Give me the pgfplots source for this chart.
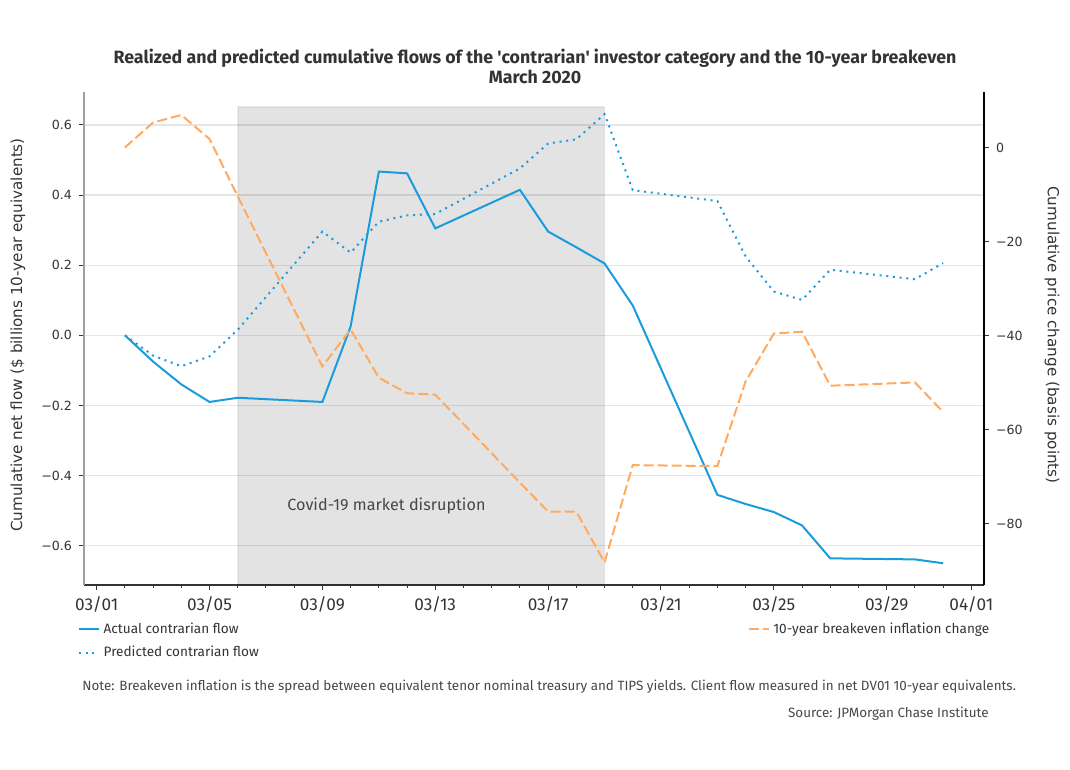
\documentclass[border=0pt]{standalone}
\usepackage{fontspec}
\usepackage{pgfplots}
\pgfplotsset{compat=1.18}
\setmainfont{Fira Sans}
\newfontfamily\titlefont{Fira Sans}
\newfontfamily\dejavu{DejaVu Sans}
\definecolor{cblue}{HTML}{1A9BDB}
\definecolor{corange}{HTML}{FFAA5E}
\definecolor{txt}{HTML}{333333}
\definecolor{gridc}{HTML}{E6E6E6}

\pgfplotstableread{
d act pred
2 0.000 0.000
3 -0.075 -0.058
4 -0.140 -0.088
5 -0.190 -0.060
6 -0.178 0.016
9 -0.190 0.296
10 0.025 0.236
11 0.467 0.324
12 0.462 0.342
13 0.305 0.346
16 0.415 0.476
17 0.296 0.547
18 0.251 0.559
19 0.205 0.631
20 0.085 0.414
23 -0.455 0.383
24 -0.481 0.225
25 -0.504 0.125
26 -0.542 0.101
27 -0.636 0.187
30 -0.639 0.160
31 -0.650 0.206
}\flows

\pgfplotstableread{
d be
2 0.0
3 5.3
4 6.9
5 1.8
6 -10.4
9 -46.6
10 -38.7
11 -49.0
12 -52.3
13 -52.6
16 -71.3
17 -77.5
18 -77.5
19 -88.3
20 -67.6
23 -67.8
24 -49.8
25 -39.6
26 -39.2
27 -50.7
30 -50.0
31 -56.3
}\breakeven

\begin{document}
\begin{tikzpicture}[x=0.5pt,y=0.5pt]
\path[use as bounding box] (0,0) rectangle (1070,770);
\pgfplotsset{
  common/.style={
    width=450pt, height=246.5pt, scale only axis,
    at={(42pt,92.5pt)}, anchor=south west,
    xmin=0.55, xmax=32.45,
    tick align=outside,
    major tick length=2.5pt, minor tick length=1.5pt,
    every tick/.style={draw=txt, line width=0.5pt},
    yticklabel style={font=\dejavu\fontsize{6.3}{7.5}\selectfont, text=txt},
    ylabel style={font=\dejavu\fontsize{7.6}{9}\selectfont, text=txt},
    legend image code/.code={\draw[#1] (0pt,0pt) -- (10pt,0pt);},
    legend style={draw=none, fill=none, anchor=north west,
      font=\fontsize{6.8}{8}\selectfont, text=txt,
      row sep=1.5pt, inner sep=0pt,
      nodes={inner sep=1.8pt}},
    legend cell align=left,
  }
}
\begin{axis}[common,
  ymin=-0.712, ymax=0.694,
  axis x line*=bottom, axis y line*=left,
  x axis line style={draw=txt, line width=0.6pt},
  y axis line style={draw=gray!75, line width=0.6pt},
  xtick={1,5,9,13,17,21,25,29,32},
  xticklabels={03/01,03/05,03/09,03/13,03/17,03/21,03/25,03/29,04/01},
  minor xtick={1,...,32},
  xticklabel style={font=\fontsize{8.6}{10}\selectfont, text=txt},
  ytick={-0.6,-0.4,-0.2,0,0.2,0.4,0.6},
  yticklabels={−0.6,−0.4,−0.2,0.0,0.2,0.4,0.6},
  ymajorgrids, grid style={gridc, line width=0.6pt},
  ylabel={Cumulative net flow (\$ billions 10-year equivalents)},
  ylabel style={at={(axis description cs:-0.0733,0.507)}, anchor=center},
  legend style={at={(axis description cs:-0.007,-0.068)}},
]
\addplot[fill=black, fill opacity=0.11, draw=black, draw opacity=0.05, line width=0.8pt, forget plot]
  coordinates {(6,-0.75) (6,0.652) (19,0.652) (19,-0.75) (6,-0.75)};
\node[font=\fontsize{8.1}{9}\selectfont, text=txt!90] at (axis cs:11.27,-0.487) {Covid-19 market disruption};
\addplot[cblue, line width=1pt] table[x=d, y=act] {\flows};
\addlegendentry{Actual contrarian flow}
\addplot[cblue, line width=1pt, dash pattern=on 1pt off 2.35pt] table[x=d, y=pred] {\flows};
\addlegendentry{Predicted contrarian flow}
\end{axis}
\begin{axis}[common,
  ymin=-93.1, ymax=11.8,
  axis x line=none, axis y line*=right,
  y axis line style={draw=black, line width=0.6pt},
  ytick={-80,-60,-40,-20,0},
  yticklabels={−80,−60,−40,−20,0},
  ylabel={Cumulative price change (basis points)},
  ylabel style={at={(axis description cs:1.0756,0.507)}, anchor=center, rotate=180},
  legend style={at={(axis description cs:0.737,-0.068)}},
]
\addplot[corange, line width=1pt, dash pattern=on 5pt off 2pt] table[x=d, y=be] {\breakeven};
\addlegendentry{10-year breakeven inflation change}
\end{axis}
\node[font=\titlefont\bfseries\fontsize{8.9}{10}\selectfont, text=txt, align=center] at (535,704)
  {Realized and predicted cumulative flows of the 'contrarian' investor category and the 10-year breakeven\\March 2020};
\node[font=\fontsize{6.72}{8}\selectfont, text=txt!90, anchor=west, inner sep=0pt] at (82,83)
  {Note: Breakeven inflation is the spread between equivalent tenor nominal treasury and TIPS yields. Client flow measured in net DV01 10-year equivalents.};
\node[font=\fontsize{6.72}{8}\selectfont, text=txt!90, anchor=east, inner sep=0pt] at (989,56)
  {Source: JPMorgan Chase Institute};
\end{tikzpicture}
\end{document}
